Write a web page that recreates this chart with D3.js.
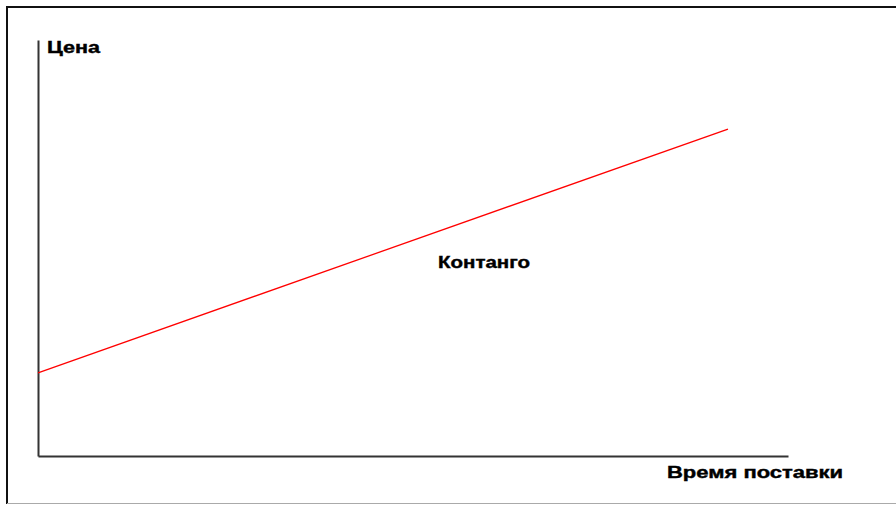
<!DOCTYPE html>
<html>
<head>
<meta charset="utf-8">
<script src="https://cdn.jsdelivr.net/npm/d3@7"></script>
<style>
  body { margin: 0; background: #fff; }
  svg { display: block; }
</style>
</head>
<body>
<div id="chart"></div>
<script>
// Size
let w = 896;
let h = 505;

// Data (arbitrary units)
let times = [0, 9.2];
let prices = [2.0, 7.86];
let yLabel = "Цена";
let xLabel = "Время поставки";
let curveLabel = "Контанго";

let xScale = d3.scaleLinear().domain([0, 10]).range([38, 788]);
let yScale = d3.scaleLinear().domain([0, 10]).range([456, 40]);

let svg = d3
  .select("#chart")
  .append("svg")
  .attr("width", w)
  .attr("height", h);

// Frame round the picture
svg.append("line")
  .attr("x1", 7).attr("y1", 7).attr("x2", w).attr("y2", 7)
  .attr("stroke", "#111").attr("stroke-width", 2);
svg.append("line")
  .attr("x1", 7).attr("y1", 6).attr("x2", 7).attr("y2", 504)
  .attr("stroke", "#111").attr("stroke-width", 2);
svg.append("line")
  .attr("x1", 7).attr("y1", 503.5).attr("x2", w).attr("y2", 503.5)
  .attr("stroke", "#aaa").attr("stroke-width", 1);

// Axes, no ticks
let xAxis = d3.axisBottom(xScale).ticks(0).tickSizeOuter(0);
let yAxis = d3.axisLeft(yScale).ticks(0).tickSizeOuter(0);
svg.append("g")
  .attr("transform", "translate(0," + yScale(0) + ")")
  .call(xAxis)
  .select(".domain")
  .attr("stroke", "#333").attr("stroke-width", 2);
svg.append("g")
  .attr("transform", "translate(" + xScale(0) + ",0)")
  .call(yAxis)
  .select(".domain")
  .attr("stroke", "#333").attr("stroke-width", 2);

// Contango line
let line = d3.line()
  .x((d, i) => xScale(times[i]))
  .y((d) => yScale(d));
svg.append("path")
  .datum(prices)
  .attr("d", line)
  .attr("fill", "none")
  .attr("stroke", "#ff0000")
  .attr("stroke-width", 1.3);

// Labels
function label(txt, x, y, len) {
  svg.append("text")
    .text(txt)
    .attr("x", x)
    .attr("y", y)
    .attr("font-family", "Liberation Sans, Arial, sans-serif")
    .attr("font-weight", "bold")
    .attr("font-size", "16px")
    .attr("textLength", len)
    .attr("lengthAdjust", "spacingAndGlyphs")
    .attr("fill", "#000")
    .attr("stroke", "#000")
    .attr("stroke-width", 0.4);
}
label(yLabel, 47, 53, 53);
label(curveLabel, 438, 268, 92);
label(xLabel, 667, 478, 176);
</script>
</body>
</html>
